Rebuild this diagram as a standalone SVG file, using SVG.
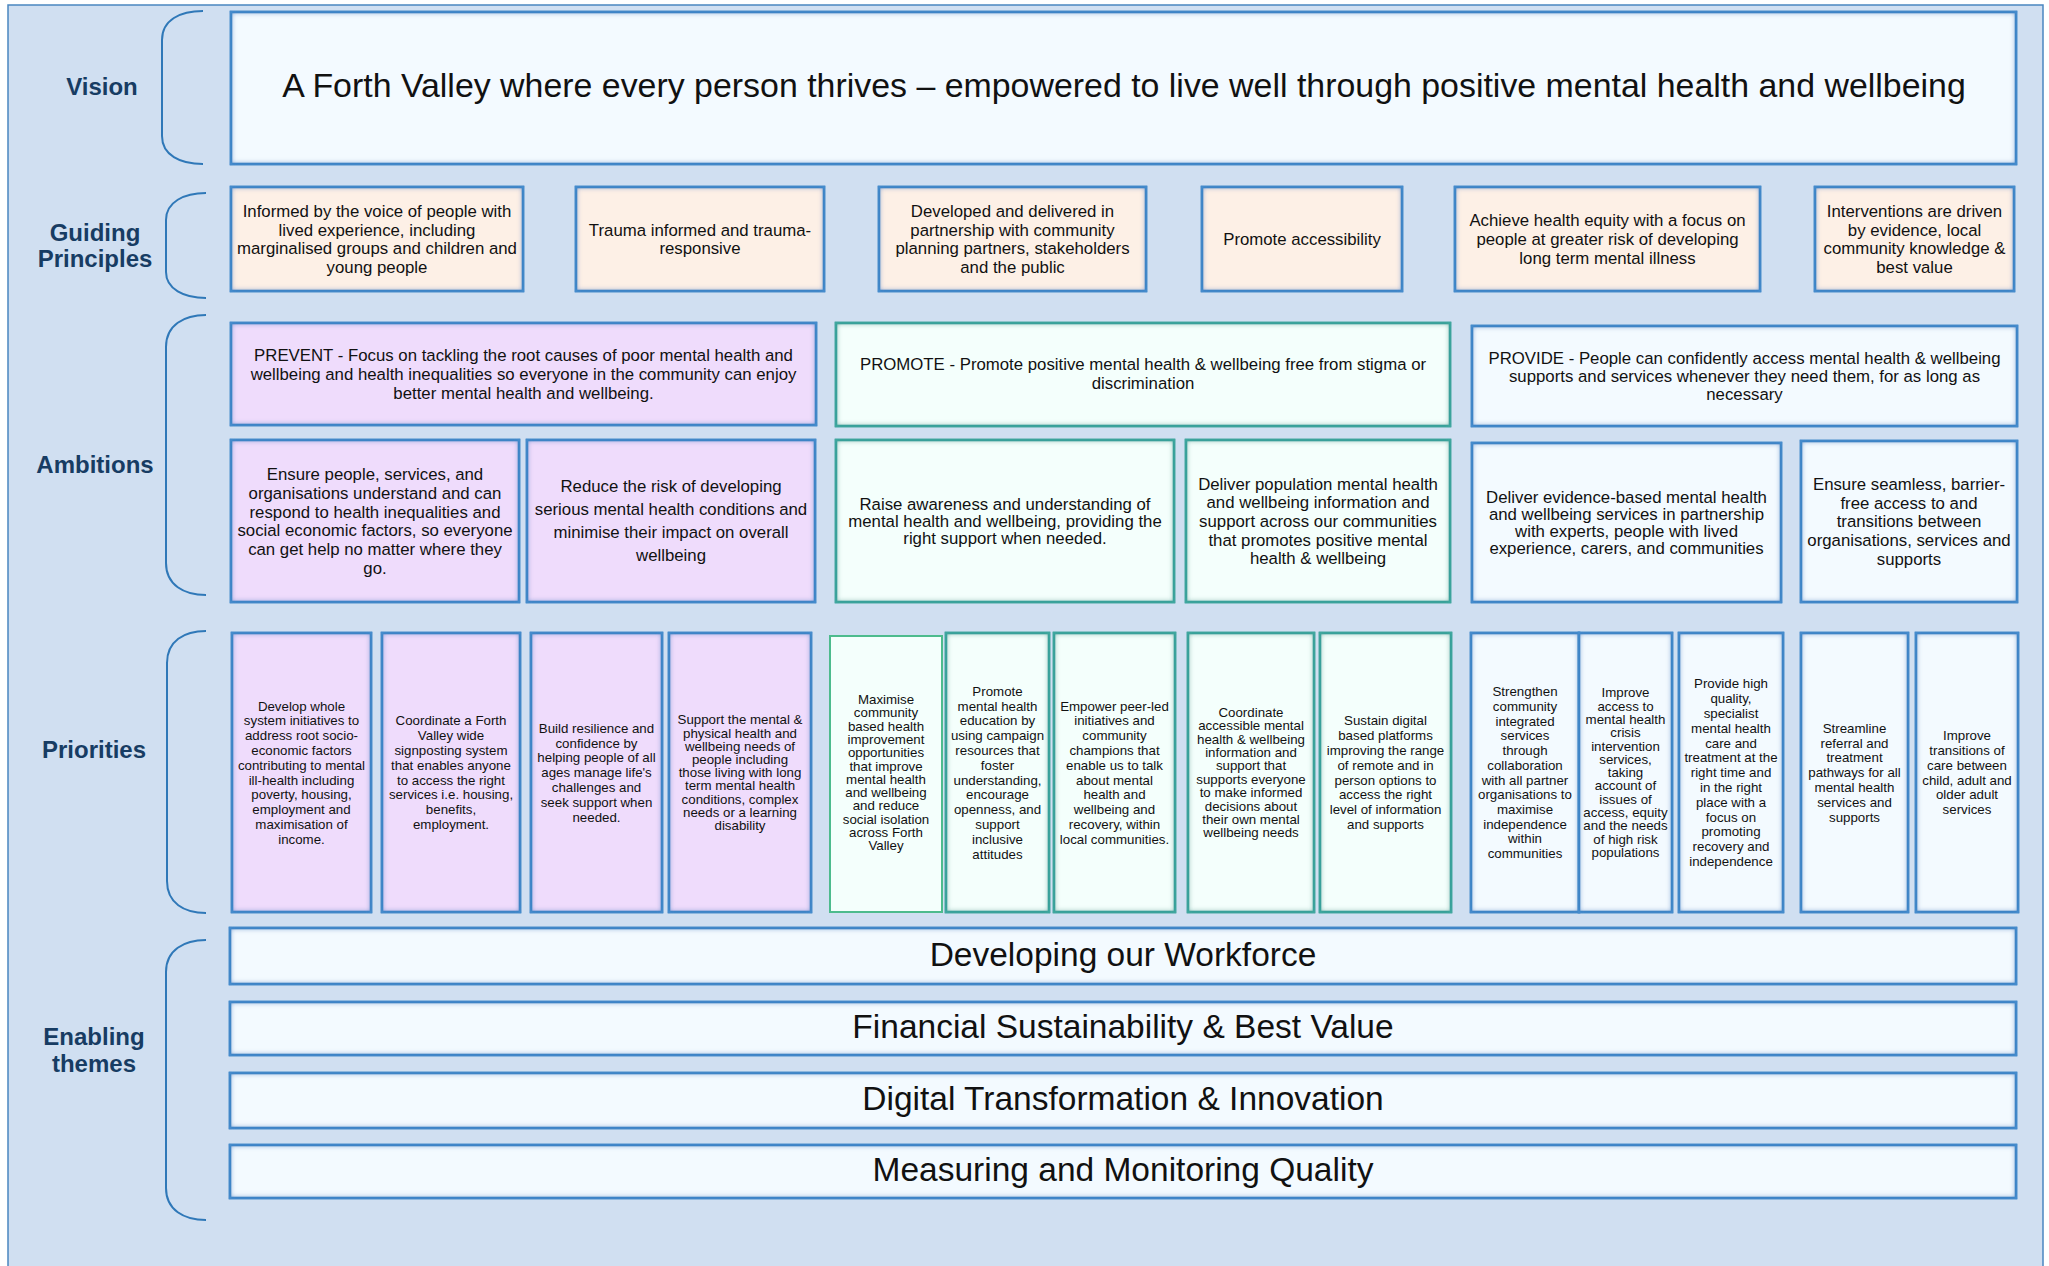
<svg xmlns="http://www.w3.org/2000/svg" width="2049" height="1266" viewBox="0 0 2049 1266">
<defs>
<filter id="igB" x="-15%" y="-15%" width="130%" height="130%">
<feFlood flood-color="#4a8fd0" result="c"/>
<feComposite in="c" in2="SourceAlpha" operator="out" result="o"/>
<feGaussianBlur in="o" stdDeviation="3.2" result="b"/>
<feComposite in="b" in2="SourceAlpha" operator="in" result="ig"/>
<feMerge><feMergeNode in="SourceGraphic"/><feMergeNode in="ig"/><feMergeNode in="ig"/></feMerge>
</filter>
<filter id="igT" x="-15%" y="-15%" width="130%" height="130%">
<feFlood flood-color="#45aaa2" result="c"/>
<feComposite in="c" in2="SourceAlpha" operator="out" result="o"/>
<feGaussianBlur in="o" stdDeviation="3.2" result="b"/>
<feComposite in="b" in2="SourceAlpha" operator="in" result="ig"/>
<feMerge><feMergeNode in="SourceGraphic"/><feMergeNode in="ig"/><feMergeNode in="ig"/></feMerge>
</filter>
<style>
text{font-family:"Liberation Sans",Arial,sans-serif;fill:#111;text-anchor:middle}
.lbl{font-size:24px;font-weight:bold;fill:#173c63}
.big{font-size:33.5px}
.m{font-size:16.8px}
.s{font-size:13.3px}
.br{fill:none;stroke:#2f78b8;stroke-width:2}
.bl{stroke:#3579bb;stroke-width:2.5;filter:url(#igB)}
.tl{stroke:#33968f;stroke-width:2.5;filter:url(#igT)}
.gr{stroke:#4dbb8d;stroke-width:2}
.fw{fill:#f3faff}
.fp{fill:#fdf0e6}
.fl{fill:#efdcfc}
.fm{fill:#f4fffc}
</style>
</defs>
<rect x="8" y="5" width="2035" height="1270" fill="#d0dff1" stroke="#4a86c0" stroke-width="1.5"/>

<g id="labels">
<text class="lbl" x="102" y="95">Vision</text>
<text class="lbl" x="95" y="241">Guiding</text>
<text class="lbl" x="95" y="267">Principles</text>
<text class="lbl" x="95" y="473">Ambitions</text>
<text class="lbl" x="94" y="758">Priorities</text>
<text class="lbl" x="94" y="1045">Enabling</text>
<text class="lbl" x="94" y="1072">themes</text>
</g>

<g id="connectors">
<path class="br" d="M203,11 C180,11 162,20 162,40 V136 C162,155 180,164 203,164"/>
<path class="br" d="M206,193 C184,193 166,202 166,220 V272 C166,289 184,298 206,298"/>
<path class="br" d="M206,315 C184,315 166,325 166,347 V563 C166,585 184,595 206,595"/>
<path class="br" d="M206,631 C184,631 167,641 167,663 V881 C167,903 184,913 206,913"/>
<path class="br" d="M206,940 C184,940 166,950 166,972 V1188 C166,1210 184,1220 206,1220"/>
</g>

<g id="vision">
<rect class="bl fw" x="231" y="12" width="1785" height="152"/>
<text class="big" x="1124" y="97" style="font-size:33.9px">A Forth Valley where every person thrives – empowered to live well through positive mental health and wellbeing</text>
</g>

<g id="gp1"><rect class="bl fp" x="231" y="187" width="292" height="104"/>
<text class="m" x="377" y="217">Informed by the voice of people with<tspan x="377" dy="18.6">lived experience, including</tspan><tspan x="377" dy="18.6">marginalised groups and children and</tspan><tspan x="377" dy="18.6">young people</tspan></text></g>
<g id="gp2"><rect class="bl fp" x="576" y="187" width="248" height="104"/>
<text class="m" x="700" y="235.6">Trauma informed and trauma-<tspan x="700" dy="18.6">responsive</tspan></text></g>
<g id="gp3"><rect class="bl fp" x="879" y="187" width="267" height="104"/>
<text class="m" x="1012.5" y="217">Developed and delivered in<tspan x="1012.5" dy="18.6">partnership with community</tspan><tspan x="1012.5" dy="18.6">planning partners, stakeholders</tspan><tspan x="1012.5" dy="18.6">and the public</tspan></text></g>
<g id="gp4"><rect class="bl fp" x="1202" y="187" width="200" height="104"/>
<text class="m" x="1302" y="245">Promote accessibility</text></g>
<g id="gp5"><rect class="bl fp" x="1455" y="187" width="305" height="104"/>
<text class="m" x="1607.5" y="226.3">Achieve health equity with a focus on<tspan x="1607.5" dy="18.6">people at greater risk of developing</tspan><tspan x="1607.5" dy="18.6">long term mental illness</tspan></text></g>
<g id="gp6"><rect class="bl fp" x="1815" y="187" width="199" height="104"/>
<text class="m" x="1914.5" y="217">Interventions are driven<tspan x="1914.5" dy="18.6">by evidence, local</tspan><tspan x="1914.5" dy="18.6">community knowledge &amp;</tspan><tspan x="1914.5" dy="18.6">best value</tspan></text></g>

<g id="prevent"><rect class="bl fl" x="231" y="323" width="585" height="102"/>
<text class="m" x="523.5" y="360.9">PREVENT - Focus on tackling the root causes of poor mental health and<tspan x="523.5" dy="19">wellbeing and health inequalities so everyone in the community can enjoy</tspan><tspan x="523.5" dy="19">better mental health and wellbeing.</tspan></text></g>
<g id="promote"><rect class="tl fm" x="836" y="323" width="614" height="103"/>
<text class="m" x="1143" y="370.4">PROMOTE - Promote positive mental health &amp; wellbeing free from stigma or<tspan x="1143" dy="19">discrimination</tspan></text></g>
<g id="provide"><rect class="bl fw" x="1472" y="326" width="545" height="100"/>
<text class="m" x="1744.5" y="363.9">PROVIDE - People can confidently access mental health &amp; wellbeing<tspan x="1744.5" dy="18">supports and services whenever they need them, for as long as</tspan><tspan x="1744.5" dy="18">necessary</tspan></text></g>

<g id="amb-a"><rect class="bl fl" x="231" y="440" width="288" height="162"/>
<text class="m" x="375" y="479.9">Ensure people, services, and<tspan x="375" dy="18.8">organisations understand and can</tspan><tspan x="375" dy="18.8">respond to health inequalities and</tspan><tspan x="375" dy="18.8">social economic factors, so everyone</tspan><tspan x="375" dy="18.8">can get help no matter where they</tspan><tspan x="375" dy="18.8">go.</tspan></text></g>
<g id="amb-b"><rect class="bl fl" x="527" y="440" width="288" height="162"/>
<text class="m" x="671" y="492.4">Reduce the risk of developing<tspan x="671" dy="23">serious mental health conditions and</tspan><tspan x="671" dy="23">minimise their impact on overall</tspan><tspan x="671" dy="23">wellbeing</tspan></text></g>
<g id="amb-c"><rect class="tl fm" x="836" y="440" width="338" height="162"/>
<text class="m" x="1005" y="509.9">Raise awareness and understanding of<tspan x="1005" dy="17">mental health and wellbeing, providing the</tspan><tspan x="1005" dy="17">right support when needed.</tspan></text></g>
<g id="amb-d"><rect class="tl fm" x="1186" y="440" width="264" height="162"/>
<text class="m" x="1318" y="489.7">Deliver population mental health<tspan x="1318" dy="18.6">and wellbeing information and</tspan><tspan x="1318" dy="18.6">support across our communities</tspan><tspan x="1318" dy="18.6">that promotes positive mental</tspan><tspan x="1318" dy="18.6">health &amp; wellbeing</tspan></text></g>
<g id="amb-e"><rect class="bl fw" x="1472" y="443" width="309" height="159"/>
<text class="m" x="1626.5" y="503.4">Deliver evidence-based mental health<tspan x="1626.5" dy="16.7">and wellbeing services in partnership</tspan><tspan x="1626.5" dy="16.7">with experts, people with lived</tspan><tspan x="1626.5" dy="16.7">experience, carers, and communities</tspan></text></g>
<g id="amb-f"><rect class="bl fw" x="1801" y="441" width="216" height="161"/>
<text class="m" x="1909" y="490">Ensure seamless, barrier-<tspan x="1909" dy="18.7">free access to and</tspan><tspan x="1909" dy="18.7">transitions between</tspan><tspan x="1909" dy="18.7">organisations, services and</tspan><tspan x="1909" dy="18.7">supports</tspan></text></g>

<g id="p1"><rect class="bl fl" x="232" y="633" width="139" height="279"/>
<text class="s" x="301.5" y="710.5">Develop whole<tspan x="301.5" dy="14.8">system initiatives to</tspan><tspan x="301.5" dy="14.8">address root socio-</tspan><tspan x="301.5" dy="14.8">economic factors</tspan><tspan x="301.5" dy="14.8">contributing to mental</tspan><tspan x="301.5" dy="14.8">ill-health including</tspan><tspan x="301.5" dy="14.8">poverty, housing,</tspan><tspan x="301.5" dy="14.8">employment and</tspan><tspan x="301.5" dy="14.8">maximisation of</tspan><tspan x="301.5" dy="14.8">income.</tspan></text></g>
<g id="p2"><rect class="bl fl" x="382" y="633" width="138" height="279"/>
<text class="s" x="451" y="725.3">Coordinate a Forth<tspan x="451" dy="14.8">Valley wide</tspan><tspan x="451" dy="14.8">signposting system</tspan><tspan x="451" dy="14.8">that enables anyone</tspan><tspan x="451" dy="14.8">to access the right</tspan><tspan x="451" dy="14.8">services i.e. housing,</tspan><tspan x="451" dy="14.8">benefits,</tspan><tspan x="451" dy="14.8">employment.</tspan></text></g>
<g id="p3"><rect class="bl fl" x="531" y="633" width="131" height="279"/>
<text class="s" x="596.5" y="732.7">Build resilience and<tspan x="596.5" dy="14.8">confidence by</tspan><tspan x="596.5" dy="14.8">helping people of all</tspan><tspan x="596.5" dy="14.8">ages manage life's</tspan><tspan x="596.5" dy="14.8">challenges and</tspan><tspan x="596.5" dy="14.8">seek support when</tspan><tspan x="596.5" dy="14.8">needed.</tspan></text></g>
<g id="p4"><rect class="bl fl" x="669" y="633" width="142" height="279"/>
<text class="s" x="740" y="724.3">Support the mental &amp;<tspan x="740" dy="13.2">physical health and</tspan><tspan x="740" dy="13.2">wellbeing needs of</tspan><tspan x="740" dy="13.2">people including</tspan><tspan x="740" dy="13.2">those living with long</tspan><tspan x="740" dy="13.2">term mental health</tspan><tspan x="740" dy="13.2">conditions, complex</tspan><tspan x="740" dy="13.2">needs or a learning</tspan><tspan x="740" dy="13.2">disability</tspan></text></g>
<g id="p5"><rect class="gr fm" x="830" y="636" width="112" height="276"/>
<text class="s" x="886" y="704">Maximise<tspan x="886" dy="13.3">community</tspan><tspan x="886" dy="13.3">based health</tspan><tspan x="886" dy="13.3">improvement</tspan><tspan x="886" dy="13.3">opportunities</tspan><tspan x="886" dy="13.3">that improve</tspan><tspan x="886" dy="13.3">mental health</tspan><tspan x="886" dy="13.3">and wellbeing</tspan><tspan x="886" dy="13.3">and reduce</tspan><tspan x="886" dy="13.3">social isolation</tspan><tspan x="886" dy="13.3">across Forth</tspan><tspan x="886" dy="13.3">Valley</tspan></text></g>
<g id="p6"><rect class="tl fm" x="946" y="633" width="103" height="279"/>
<text class="s" x="997.5" y="695.7">Promote<tspan x="997.5" dy="14.8">mental health</tspan><tspan x="997.5" dy="14.8">education by</tspan><tspan x="997.5" dy="14.8">using campaign</tspan><tspan x="997.5" dy="14.8">resources that</tspan><tspan x="997.5" dy="14.8">foster</tspan><tspan x="997.5" dy="14.8">understanding,</tspan><tspan x="997.5" dy="14.8">encourage</tspan><tspan x="997.5" dy="14.8">openness, and</tspan><tspan x="997.5" dy="14.8">support</tspan><tspan x="997.5" dy="14.8">inclusive</tspan><tspan x="997.5" dy="14.8">attitudes</tspan></text></g>
<g id="p7"><rect class="tl fm" x="1054" y="633" width="121" height="279"/>
<text class="s" x="1114.5" y="710.5">Empower peer-led<tspan x="1114.5" dy="14.8">initiatives and</tspan><tspan x="1114.5" dy="14.8">community</tspan><tspan x="1114.5" dy="14.8">champions that</tspan><tspan x="1114.5" dy="14.8">enable us to talk</tspan><tspan x="1114.5" dy="14.8">about mental</tspan><tspan x="1114.5" dy="14.8">health and</tspan><tspan x="1114.5" dy="14.8">wellbeing and</tspan><tspan x="1114.5" dy="14.8">recovery, within</tspan><tspan x="1114.5" dy="14.8">local communities.</tspan></text></g>
<g id="p8"><rect class="tl fm" x="1188" y="633" width="126" height="279"/>
<text class="s" x="1251" y="716.8">Coordinate<tspan x="1251" dy="13.4">accessible mental</tspan><tspan x="1251" dy="13.4">health &amp; wellbeing</tspan><tspan x="1251" dy="13.4">information and</tspan><tspan x="1251" dy="13.4">support that</tspan><tspan x="1251" dy="13.4">supports everyone</tspan><tspan x="1251" dy="13.4">to make informed</tspan><tspan x="1251" dy="13.4">decisions about</tspan><tspan x="1251" dy="13.4">their own mental</tspan><tspan x="1251" dy="13.4">wellbeing needs</tspan></text></g>
<g id="p9"><rect class="tl fm" x="1320" y="633" width="131" height="279"/>
<text class="s" x="1385.5" y="725.3">Sustain digital<tspan x="1385.5" dy="14.8">based platforms</tspan><tspan x="1385.5" dy="14.8">improving the range</tspan><tspan x="1385.5" dy="14.8">of remote and in</tspan><tspan x="1385.5" dy="14.8">person options to</tspan><tspan x="1385.5" dy="14.8">access the right</tspan><tspan x="1385.5" dy="14.8">level of information</tspan><tspan x="1385.5" dy="14.8">and supports</tspan></text></g>
<g id="p10"><rect class="bl fw" x="1471" y="633" width="108" height="279"/>
<text class="s" x="1525" y="696.3">Strengthen<tspan x="1525" dy="14.7">community</tspan><tspan x="1525" dy="14.7">integrated</tspan><tspan x="1525" dy="14.7">services</tspan><tspan x="1525" dy="14.7">through</tspan><tspan x="1525" dy="14.7">collaboration</tspan><tspan x="1525" dy="14.7">with all partner</tspan><tspan x="1525" dy="14.7">organisations to</tspan><tspan x="1525" dy="14.7">maximise</tspan><tspan x="1525" dy="14.7">independence</tspan><tspan x="1525" dy="14.7">within</tspan><tspan x="1525" dy="14.7">communities</tspan></text></g>
<g id="p11"><rect class="bl fw" x="1579" y="633" width="93" height="279"/>
<text class="s" x="1625.5" y="697.3">Improve<tspan x="1625.5" dy="13.3">access to</tspan><tspan x="1625.5" dy="13.3">mental health</tspan><tspan x="1625.5" dy="13.3">crisis</tspan><tspan x="1625.5" dy="13.3">intervention</tspan><tspan x="1625.5" dy="13.3">services,</tspan><tspan x="1625.5" dy="13.3">taking</tspan><tspan x="1625.5" dy="13.3">account of</tspan><tspan x="1625.5" dy="13.3">issues of</tspan><tspan x="1625.5" dy="13.3">access, equity</tspan><tspan x="1625.5" dy="13.3">and the needs</tspan><tspan x="1625.5" dy="13.3">of high risk</tspan><tspan x="1625.5" dy="13.3">populations</tspan></text></g>
<g id="p12"><rect class="bl fw" x="1679" y="633" width="104" height="279"/>
<text class="s" x="1731" y="688.3">Provide high<tspan x="1731" dy="14.8">quality,</tspan><tspan x="1731" dy="14.8">specialist</tspan><tspan x="1731" dy="14.8">mental health</tspan><tspan x="1731" dy="14.8">care and</tspan><tspan x="1731" dy="14.8">treatment at the</tspan><tspan x="1731" dy="14.8">right time and</tspan><tspan x="1731" dy="14.8">in the right</tspan><tspan x="1731" dy="14.8">place with a</tspan><tspan x="1731" dy="14.8">focus on</tspan><tspan x="1731" dy="14.8">promoting</tspan><tspan x="1731" dy="14.8">recovery and</tspan><tspan x="1731" dy="14.8">independence</tspan></text></g>
<g id="p13"><rect class="bl fw" x="1801" y="633" width="107" height="279"/>
<text class="s" x="1854.5" y="732.7">Streamline<tspan x="1854.5" dy="14.8">referral and</tspan><tspan x="1854.5" dy="14.8">treatment</tspan><tspan x="1854.5" dy="14.8">pathways for all</tspan><tspan x="1854.5" dy="14.8">mental health</tspan><tspan x="1854.5" dy="14.8">services and</tspan><tspan x="1854.5" dy="14.8">supports</tspan></text></g>
<g id="p14"><rect class="bl fw" x="1916" y="633" width="102" height="279"/>
<text class="s" x="1967" y="740.1">Improve<tspan x="1967" dy="14.8">transitions of</tspan><tspan x="1967" dy="14.8">care between</tspan><tspan x="1967" dy="14.8">child, adult and</tspan><tspan x="1967" dy="14.8">older adult</tspan><tspan x="1967" dy="14.8">services</tspan></text></g>

<g id="en1"><rect class="bl fw" x="230" y="928" width="1786" height="56"/>
<text class="big" x="1123" y="965.7">Developing our Workforce</text></g>
<g id="en2"><rect class="bl fw" x="230" y="1002" width="1786" height="53"/>
<text class="big" x="1123" y="1038.2">Financial Sustainability &amp; Best Value</text></g>
<g id="en3"><rect class="bl fw" x="230" y="1073" width="1786" height="55"/>
<text class="big" x="1123" y="1110.2">Digital Transformation &amp; Innovation</text></g>
<g id="en4"><rect class="bl fw" x="230" y="1145" width="1786" height="53"/>
<text class="big" x="1123" y="1181.2">Measuring and Monitoring Quality</text></g>
</svg>
